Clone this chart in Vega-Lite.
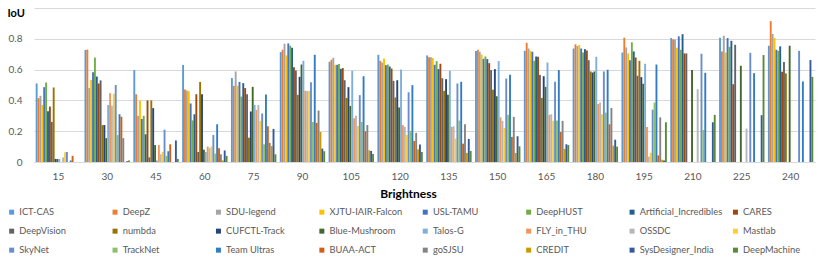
{
  "$schema": "https://vega.github.io/schema/vega-lite/v6.json",
  "width": 781,
  "height": 154,
  "autosize": {"type": "none"},
  "padding": {"left": 34, "top": 8, "right": 15, "bottom": 96},
  "background": "#ffffff",
  "config": {
    "view": {"stroke": null},
    "font": "Lato",
    "axis": {"labelFont": "Lato", "titleFont": "Lato"},
    "legend": {"labelFont": "Lato"}
  },
  "data": {"values": [
    {"brightness":15,"team":"ICT-CAS","iou":0.51},{"brightness":15,"team":"DeepZ","iou":0.415},{"brightness":15,"team":"SDU-legend","iou":0.43},{"brightness":15,"team":"XJTU-IAIR-Falcon","iou":0.37},{"brightness":15,"team":"USL-TAMU","iou":0.486},{"brightness":15,"team":"DeepHUST","iou":0.516},{"brightness":15,"team":"Artificial_Incredibles","iou":0.33},{"brightness":15,"team":"CARES","iou":0.36},{"brightness":15,"team":"DeepVision","iou":0.26},{"brightness":15,"team":"numbda","iou":0.484},{"brightness":15,"team":"CUFCTL-Track","iou":0.02},{"brightness":15,"team":"Blue-Mushroom","iou":0.02},{"brightness":15,"team":"Talos-G","iou":0.02},{"brightness":15,"team":"FLY_in_THU","iou":0},{"brightness":15,"team":"OSSDC","iou":0.03},{"brightness":15,"team":"Mastlab","iou":0.063},{"brightness":15,"team":"SkyNet","iou":0.065},{"brightness":15,"team":"TrackNet","iou":0},{"brightness":15,"team":"Team Ultras","iou":0.01},{"brightness":15,"team":"BUAA-ACT","iou":0.04},{"brightness":15,"team":"goSJSU","iou":0},{"brightness":15,"team":"CREDIT","iou":0},{"brightness":15,"team":"SysDesigner_India","iou":0},{"brightness":15,"team":"DeepMachine","iou":0},
    {"brightness":30,"team":"ICT-CAS","iou":0.728},{"brightness":30,"team":"DeepZ","iou":0.73},{"brightness":30,"team":"SDU-legend","iou":0.48},{"brightness":30,"team":"XJTU-IAIR-Falcon","iou":0.533},{"brightness":30,"team":"USL-TAMU","iou":0.583},{"brightness":30,"team":"DeepHUST","iou":0.678},{"brightness":30,"team":"Artificial_Incredibles","iou":0.555},{"brightness":30,"team":"CARES","iou":0.51},{"brightness":30,"team":"DeepVision","iou":0.53},{"brightness":30,"team":"numbda","iou":0.24},{"brightness":30,"team":"CUFCTL-Track","iou":0.24},{"brightness":30,"team":"Blue-Mushroom","iou":0.155},{"brightness":30,"team":"Talos-G","iou":0.37},{"brightness":30,"team":"FLY_in_THU","iou":0.447},{"brightness":30,"team":"OSSDC","iou":0.365},{"brightness":30,"team":"Mastlab","iou":0.443},{"brightness":30,"team":"SkyNet","iou":0.5},{"brightness":30,"team":"TrackNet","iou":0.175},{"brightness":30,"team":"Team Ultras","iou":0.31},{"brightness":30,"team":"BUAA-ACT","iou":0.294},{"brightness":30,"team":"goSJSU","iou":0.155},{"brightness":30,"team":"CREDIT","iou":0},{"brightness":30,"team":"SysDesigner_India","iou":0.005},{"brightness":30,"team":"DeepMachine","iou":0.01},
    {"brightness":45,"team":"ICT-CAS","iou":0.597},{"brightness":45,"team":"DeepZ","iou":0.44},{"brightness":45,"team":"SDU-legend","iou":0.3},{"brightness":45,"team":"XJTU-IAIR-Falcon","iou":0.4},{"brightness":45,"team":"USL-TAMU","iou":0.28},{"brightness":45,"team":"DeepHUST","iou":0.3},{"brightness":45,"team":"Artificial_Incredibles","iou":0.18},{"brightness":45,"team":"CARES","iou":0.4},{"brightness":45,"team":"DeepVision","iou":0.03},{"brightness":45,"team":"numbda","iou":0.4},{"brightness":45,"team":"CUFCTL-Track","iou":0.35},{"brightness":45,"team":"Blue-Mushroom","iou":0.11},{"brightness":45,"team":"Talos-G","iou":0.01},{"brightness":45,"team":"FLY_in_THU","iou":0.11},{"brightness":45,"team":"OSSDC","iou":0.05},{"brightness":45,"team":"Mastlab","iou":0.065},{"brightness":45,"team":"SkyNet","iou":0.21},{"brightness":45,"team":"TrackNet","iou":0.04},{"brightness":45,"team":"Team Ultras","iou":0.07},{"brightness":45,"team":"BUAA-ACT","iou":0.115},{"brightness":45,"team":"goSJSU","iou":0},{"brightness":45,"team":"CREDIT","iou":0},{"brightness":45,"team":"SysDesigner_India","iou":0.14},{"brightness":45,"team":"DeepMachine","iou":0.02},
    {"brightness":60,"team":"ICT-CAS","iou":0.63},{"brightness":60,"team":"DeepZ","iou":0.47},{"brightness":60,"team":"SDU-legend","iou":0.464},{"brightness":60,"team":"XJTU-IAIR-Falcon","iou":0.46},{"brightness":60,"team":"USL-TAMU","iou":0.38},{"brightness":60,"team":"DeepHUST","iou":0.27},{"brightness":60,"team":"Artificial_Incredibles","iou":0.31},{"brightness":60,"team":"CARES","iou":0.44},{"brightness":60,"team":"DeepVision","iou":0.065},{"brightness":60,"team":"numbda","iou":0.52},{"brightness":60,"team":"CUFCTL-Track","iou":0.44},{"brightness":60,"team":"Blue-Mushroom","iou":0.08},{"brightness":60,"team":"Talos-G","iou":0.065},{"brightness":60,"team":"FLY_in_THU","iou":0.1},{"brightness":60,"team":"OSSDC","iou":0.09},{"brightness":60,"team":"Mastlab","iou":0.1},{"brightness":60,"team":"SkyNet","iou":0.175},{"brightness":60,"team":"TrackNet","iou":0.055},{"brightness":60,"team":"Team Ultras","iou":0.245},{"brightness":60,"team":"BUAA-ACT","iou":0.09},{"brightness":60,"team":"goSJSU","iou":0.05},{"brightness":60,"team":"CREDIT","iou":0.01},{"brightness":60,"team":"SysDesigner_India","iou":0.075},{"brightness":60,"team":"DeepMachine","iou":0.04},
    {"brightness":75,"team":"ICT-CAS","iou":0.545},{"brightness":75,"team":"DeepZ","iou":0.495},{"brightness":75,"team":"SDU-legend","iou":0.588},{"brightness":75,"team":"XJTU-IAIR-Falcon","iou":0.495},{"brightness":75,"team":"USL-TAMU","iou":0.52},{"brightness":75,"team":"DeepHUST","iou":0.425},{"brightness":75,"team":"Artificial_Incredibles","iou":0.512},{"brightness":75,"team":"CARES","iou":0.48},{"brightness":75,"team":"DeepVision","iou":0.44},{"brightness":75,"team":"numbda","iou":0.158},{"brightness":75,"team":"CUFCTL-Track","iou":0.328},{"brightness":75,"team":"Blue-Mushroom","iou":0.488},{"brightness":75,"team":"Talos-G","iou":0.37},{"brightness":75,"team":"FLY_in_THU","iou":0.338},{"brightness":75,"team":"OSSDC","iou":0.37},{"brightness":75,"team":"Mastlab","iou":0.267},{"brightness":75,"team":"SkyNet","iou":0.315},{"brightness":75,"team":"TrackNet","iou":0.115},{"brightness":75,"team":"Team Ultras","iou":0.438},{"brightness":75,"team":"BUAA-ACT","iou":0.232},{"brightness":75,"team":"goSJSU","iou":0.124},{"brightness":75,"team":"CREDIT","iou":0.104},{"brightness":75,"team":"SysDesigner_India","iou":0.215},{"brightness":75,"team":"DeepMachine","iou":0.05},
    {"brightness":90,"team":"ICT-CAS","iou":0.714},{"brightness":90,"team":"DeepZ","iou":0.729},{"brightness":90,"team":"SDU-legend","iou":0.768},{"brightness":90,"team":"XJTU-IAIR-Falcon","iou":0.692},{"brightness":90,"team":"USL-TAMU","iou":0.77},{"brightness":90,"team":"DeepHUST","iou":0.755},{"brightness":90,"team":"Artificial_Incredibles","iou":0.742},{"brightness":90,"team":"CARES","iou":0.616},{"brightness":90,"team":"DeepVision","iou":0.594},{"brightness":90,"team":"numbda","iou":0.436},{"brightness":90,"team":"CUFCTL-Track","iou":0.553},{"brightness":90,"team":"Blue-Mushroom","iou":0.633},{"brightness":90,"team":"Talos-G","iou":0.657},{"brightness":90,"team":"FLY_in_THU","iou":0.462},{"brightness":90,"team":"OSSDC","iou":0.462},{"brightness":90,"team":"Mastlab","iou":0.462},{"brightness":90,"team":"SkyNet","iou":0.518},{"brightness":90,"team":"TrackNet","iou":0.26},{"brightness":90,"team":"Team Ultras","iou":0.696},{"brightness":90,"team":"BUAA-ACT","iou":0.254},{"brightness":90,"team":"goSJSU","iou":0.334},{"brightness":90,"team":"CREDIT","iou":0.195},{"brightness":90,"team":"SysDesigner_India","iou":0.087},{"brightness":90,"team":"DeepMachine","iou":0.07},
    {"brightness":105,"team":"ICT-CAS","iou":0.651},{"brightness":105,"team":"DeepZ","iou":0.664},{"brightness":105,"team":"SDU-legend","iou":0.677},{"brightness":105,"team":"XJTU-IAIR-Falcon","iou":0.631},{"brightness":105,"team":"USL-TAMU","iou":0.631},{"brightness":105,"team":"DeepHUST","iou":0.636},{"brightness":105,"team":"Artificial_Incredibles","iou":0.605},{"brightness":105,"team":"CARES","iou":0.61},{"brightness":105,"team":"DeepVision","iou":0.531},{"brightness":105,"team":"numbda","iou":0.416},{"brightness":105,"team":"CUFCTL-Track","iou":0.486},{"brightness":105,"team":"Blue-Mushroom","iou":0.364},{"brightness":105,"team":"Talos-G","iou":0.592},{"brightness":105,"team":"FLY_in_THU","iou":0.284},{"brightness":105,"team":"OSSDC","iou":0.3},{"brightness":105,"team":"Mastlab","iou":0.234},{"brightness":105,"team":"SkyNet","iou":0.434},{"brightness":105,"team":"TrackNet","iou":0.26},{"brightness":105,"team":"Team Ultras","iou":0.557},{"brightness":105,"team":"BUAA-ACT","iou":0.2},{"brightness":105,"team":"goSJSU","iou":0.24},{"brightness":105,"team":"CREDIT","iou":0.076},{"brightness":105,"team":"SysDesigner_India","iou":0.072},{"brightness":105,"team":"DeepMachine","iou":0.052},
    {"brightness":120,"team":"ICT-CAS","iou":0.696},{"brightness":120,"team":"DeepZ","iou":0.657},{"brightness":120,"team":"SDU-legend","iou":0.646},{"brightness":120,"team":"XJTU-IAIR-Falcon","iou":0.672},{"brightness":120,"team":"USL-TAMU","iou":0.629},{"brightness":120,"team":"DeepHUST","iou":0.633},{"brightness":120,"team":"Artificial_Incredibles","iou":0.62},{"brightness":120,"team":"CARES","iou":0.607},{"brightness":120,"team":"DeepVision","iou":0.527},{"brightness":120,"team":"numbda","iou":0.419},{"brightness":120,"team":"CUFCTL-Track","iou":0.531},{"brightness":120,"team":"Blue-Mushroom","iou":0.354},{"brightness":120,"team":"Talos-G","iou":0.6},{"brightness":120,"team":"FLY_in_THU","iou":0.239},{"brightness":120,"team":"OSSDC","iou":0.228},{"brightness":120,"team":"Mastlab","iou":0.176},{"brightness":120,"team":"SkyNet","iou":0.453},{"brightness":120,"team":"TrackNet","iou":0.202},{"brightness":120,"team":"Team Ultras","iou":0.499},{"brightness":120,"team":"BUAA-ACT","iou":0.137},{"brightness":120,"team":"goSJSU","iou":0.189},{"brightness":120,"team":"CREDIT","iou":0.082},{"brightness":120,"team":"SysDesigner_India","iou":0.113},{"brightness":120,"team":"DeepMachine","iou":0.065},
    {"brightness":135,"team":"ICT-CAS","iou":0.692},{"brightness":135,"team":"DeepZ","iou":0.68},{"brightness":135,"team":"SDU-legend","iou":0.68},{"brightness":135,"team":"XJTU-IAIR-Falcon","iou":0.675},{"brightness":135,"team":"USL-TAMU","iou":0.631},{"brightness":135,"team":"DeepHUST","iou":0.655},{"brightness":135,"team":"Artificial_Incredibles","iou":0.603},{"brightness":135,"team":"CARES","iou":0.638},{"brightness":135,"team":"DeepVision","iou":0.544},{"brightness":135,"team":"numbda","iou":0.462},{"brightness":135,"team":"CUFCTL-Track","iou":0.538},{"brightness":135,"team":"Blue-Mushroom","iou":0.436},{"brightness":135,"team":"Talos-G","iou":0.592},{"brightness":135,"team":"FLY_in_THU","iou":0.228},{"brightness":135,"team":"OSSDC","iou":0.232},{"brightness":135,"team":"Mastlab","iou":0.152},{"brightness":135,"team":"SkyNet","iou":0.51},{"brightness":135,"team":"TrackNet","iou":0.269},{"brightness":135,"team":"Team Ultras","iou":0.521},{"brightness":135,"team":"BUAA-ACT","iou":0.119},{"brightness":135,"team":"goSJSU","iou":0.245},{"brightness":135,"team":"CREDIT","iou":0.059},{"brightness":135,"team":"SysDesigner_India","iou":0.15},{"brightness":135,"team":"DeepMachine","iou":0.072},
    {"brightness":150,"team":"ICT-CAS","iou":0.72},{"brightness":150,"team":"DeepZ","iou":0.729},{"brightness":150,"team":"SDU-legend","iou":0.716},{"brightness":150,"team":"XJTU-IAIR-Falcon","iou":0.698},{"brightness":150,"team":"USL-TAMU","iou":0.67},{"brightness":150,"team":"DeepHUST","iou":0.685},{"brightness":150,"team":"Artificial_Incredibles","iou":0.668},{"brightness":150,"team":"CARES","iou":0.642},{"brightness":150,"team":"DeepVision","iou":0.597},{"brightness":150,"team":"numbda","iou":0.469},{"brightness":150,"team":"CUFCTL-Track","iou":0.603},{"brightness":150,"team":"Blue-Mushroom","iou":0.427},{"brightness":150,"team":"Talos-G","iou":0.655},{"brightness":150,"team":"FLY_in_THU","iou":0.29},{"brightness":150,"team":"OSSDC","iou":0.267},{"brightness":150,"team":"Mastlab","iou":0.221},{"brightness":150,"team":"SkyNet","iou":0.542},{"brightness":150,"team":"TrackNet","iou":0.306},{"brightness":150,"team":"Team Ultras","iou":0.566},{"brightness":150,"team":"BUAA-ACT","iou":0.163},{"brightness":150,"team":"goSJSU","iou":0.293},{"brightness":150,"team":"CREDIT","iou":0.059},{"brightness":150,"team":"SysDesigner_India","iou":0.167},{"brightness":150,"team":"DeepMachine","iou":0.102},
    {"brightness":165,"team":"ICT-CAS","iou":0.722},{"brightness":165,"team":"DeepZ","iou":0.774},{"brightness":165,"team":"SDU-legend","iou":0.737},{"brightness":165,"team":"XJTU-IAIR-Falcon","iou":0.722},{"brightness":165,"team":"USL-TAMU","iou":0.716},{"brightness":165,"team":"DeepHUST","iou":0.657},{"brightness":165,"team":"Artificial_Incredibles","iou":0.685},{"brightness":165,"team":"CARES","iou":0.683},{"brightness":165,"team":"DeepVision","iou":0.566},{"brightness":165,"team":"numbda","iou":0.416},{"brightness":165,"team":"CUFCTL-Track","iou":0.557},{"brightness":165,"team":"Blue-Mushroom","iou":0.488},{"brightness":165,"team":"Talos-G","iou":0.646},{"brightness":165,"team":"FLY_in_THU","iou":0.306},{"brightness":165,"team":"OSSDC","iou":0.31},{"brightness":165,"team":"Mastlab","iou":0.267},{"brightness":165,"team":"SkyNet","iou":0.521},{"brightness":165,"team":"TrackNet","iou":0.269},{"brightness":165,"team":"Team Ultras","iou":0.597},{"brightness":165,"team":"BUAA-ACT","iou":0.195},{"brightness":165,"team":"goSJSU","iou":0.267},{"brightness":165,"team":"CREDIT","iou":0.085},{"brightness":165,"team":"SysDesigner_India","iou":0.115},{"brightness":165,"team":"DeepMachine","iou":0.11},
    {"brightness":180,"team":"ICT-CAS","iou":0.737},{"brightness":180,"team":"DeepZ","iou":0.764},{"brightness":180,"team":"SDU-legend","iou":0.753},{"brightness":180,"team":"XJTU-IAIR-Falcon","iou":0.759},{"brightness":180,"team":"USL-TAMU","iou":0.737},{"brightness":180,"team":"DeepHUST","iou":0.711},{"brightness":180,"team":"Artificial_Incredibles","iou":0.733},{"brightness":180,"team":"CARES","iou":0.724},{"brightness":180,"team":"DeepVision","iou":0.661},{"brightness":180,"team":"numbda","iou":0.588},{"brightness":180,"team":"CUFCTL-Track","iou":0.581},{"brightness":180,"team":"Blue-Mushroom","iou":0.588},{"brightness":180,"team":"Talos-G","iou":0.683},{"brightness":180,"team":"FLY_in_THU","iou":0.377},{"brightness":180,"team":"OSSDC","iou":0.386},{"brightness":180,"team":"Mastlab","iou":0.31},{"brightness":180,"team":"SkyNet","iou":0.588},{"brightness":180,"team":"TrackNet","iou":0.321},{"brightness":180,"team":"Team Ultras","iou":0.599},{"brightness":180,"team":"BUAA-ACT","iou":0.245},{"brightness":180,"team":"goSJSU","iou":0.351},{"brightness":180,"team":"CREDIT","iou":0.106},{"brightness":180,"team":"SysDesigner_India","iou":0.145},{"brightness":180,"team":"DeepMachine","iou":0.1},
    {"brightness":195,"team":"ICT-CAS","iou":0.711},{"brightness":195,"team":"DeepZ","iou":0.807},{"brightness":195,"team":"SDU-legend","iou":0.744},{"brightness":195,"team":"XJTU-IAIR-Falcon","iou":0.705},{"brightness":195,"team":"USL-TAMU","iou":0.661},{"brightness":195,"team":"DeepHUST","iou":0.777},{"brightness":195,"team":"Artificial_Incredibles","iou":0.718},{"brightness":195,"team":"CARES","iou":0.679},{"brightness":195,"team":"DeepVision","iou":0.56},{"brightness":195,"team":"numbda","iou":0.657},{"brightness":195,"team":"CUFCTL-Track","iou":0.551},{"brightness":195,"team":"Blue-Mushroom","iou":0.508},{"brightness":195,"team":"Talos-G","iou":0.638},{"brightness":195,"team":"FLY_in_THU","iou":0.228},{"brightness":195,"team":"OSSDC","iou":0.035},{"brightness":195,"team":"Mastlab","iou":0.06},{"brightness":195,"team":"SkyNet","iou":0.34},{"brightness":195,"team":"TrackNet","iou":0.386},{"brightness":195,"team":"Team Ultras","iou":0.633},{"brightness":195,"team":"BUAA-ACT","iou":0.043},{"brightness":195,"team":"goSJSU","iou":0.29},{"brightness":195,"team":"CREDIT","iou":0.015},{"brightness":195,"team":"SysDesigner_India","iou":0.009},{"brightness":195,"team":"DeepMachine","iou":0.258},
    {"brightness":210,"team":"ICT-CAS","iou":0.805},{"brightness":210,"team":"DeepZ","iou":0.796},{"brightness":210,"team":"SDU-legend","iou":0.796},{"brightness":210,"team":"XJTU-IAIR-Falcon","iou":0.742},{"brightness":210,"team":"USL-TAMU","iou":0.816},{"brightness":210,"team":"DeepHUST","iou":0.729},{"brightness":210,"team":"Artificial_Incredibles","iou":0.83},{"brightness":210,"team":"CARES","iou":0.705},{"brightness":210,"team":"DeepVision","iou":0.705},{"brightness":210,"team":"numbda","iou":0},{"brightness":210,"team":"CUFCTL-Track","iou":0},{"brightness":210,"team":"Blue-Mushroom","iou":0.597},{"brightness":210,"team":"Talos-G","iou":0},{"brightness":210,"team":"FLY_in_THU","iou":0},{"brightness":210,"team":"OSSDC","iou":0.473},{"brightness":210,"team":"Mastlab","iou":0},{"brightness":210,"team":"SkyNet","iou":0.703},{"brightness":210,"team":"TrackNet","iou":0.208},{"brightness":210,"team":"Team Ultras","iou":0.579},{"brightness":210,"team":"BUAA-ACT","iou":0},{"brightness":210,"team":"goSJSU","iou":0},{"brightness":210,"team":"CREDIT","iou":0},{"brightness":210,"team":"SysDesigner_India","iou":0.258},{"brightness":210,"team":"DeepMachine","iou":0.306},
    {"brightness":225,"team":"ICT-CAS","iou":0.807},{"brightness":225,"team":"DeepZ","iou":0.718},{"brightness":225,"team":"SDU-legend","iou":0.82},{"brightness":225,"team":"XJTU-IAIR-Falcon","iou":0.711},{"brightness":225,"team":"USL-TAMU","iou":0.805},{"brightness":225,"team":"DeepHUST","iou":0.748},{"brightness":225,"team":"Artificial_Incredibles","iou":0.787},{"brightness":225,"team":"CARES","iou":0.505},{"brightness":225,"team":"DeepVision","iou":0.761},{"brightness":225,"team":"numbda","iou":0},{"brightness":225,"team":"CUFCTL-Track","iou":0},{"brightness":225,"team":"Blue-Mushroom","iou":0.625},{"brightness":225,"team":"Talos-G","iou":0},{"brightness":225,"team":"FLY_in_THU","iou":0},{"brightness":225,"team":"OSSDC","iou":0.217},{"brightness":225,"team":"Mastlab","iou":0},{"brightness":225,"team":"SkyNet","iou":0.709},{"brightness":225,"team":"TrackNet","iou":0},{"brightness":225,"team":"Team Ultras","iou":0.577},{"brightness":225,"team":"BUAA-ACT","iou":0},{"brightness":225,"team":"goSJSU","iou":0},{"brightness":225,"team":"CREDIT","iou":0},{"brightness":225,"team":"SysDesigner_India","iou":0.304},{"brightness":225,"team":"DeepMachine","iou":0.694},
    {"brightness":240,"team":"ICT-CAS","iou":0.755},{"brightness":240,"team":"DeepZ","iou":0.915},{"brightness":240,"team":"SDU-legend","iou":0.831},{"brightness":240,"team":"XJTU-IAIR-Falcon","iou":0.805},{"brightness":240,"team":"USL-TAMU","iou":0.729},{"brightness":240,"team":"DeepHUST","iou":0.722},{"brightness":240,"team":"Artificial_Incredibles","iou":0.751},{"brightness":240,"team":"CARES","iou":0.586},{"brightness":240,"team":"DeepVision","iou":0.649},{"brightness":240,"team":"numbda","iou":0.575},{"brightness":240,"team":"CUFCTL-Track","iou":0},{"brightness":240,"team":"Blue-Mushroom","iou":0.755},{"brightness":240,"team":"Talos-G","iou":0},{"brightness":240,"team":"FLY_in_THU","iou":0},{"brightness":240,"team":"OSSDC","iou":0},{"brightness":240,"team":"Mastlab","iou":0},{"brightness":240,"team":"SkyNet","iou":0.722},{"brightness":240,"team":"TrackNet","iou":0},{"brightness":240,"team":"Team Ultras","iou":0.523},{"brightness":240,"team":"BUAA-ACT","iou":0},{"brightness":240,"team":"goSJSU","iou":0},{"brightness":240,"team":"CREDIT","iou":0},{"brightness":240,"team":"SysDesigner_India","iou":0.662},{"brightness":240,"team":"DeepMachine","iou":0.553}
  ]},
  "mark": {"type": "bar"},
  "encoding": {
    "x": {
      "field": "brightness", "type": "ordinal",
      "scale": {"paddingInner": 0.07, "paddingOuter": 0.035},
      "axis": {
        "title": "Brightness", "labelAngle": 0, "ticks": false, "tickSize": 0,
        "domain": true, "domainColor": "#D9D9D9", "domainWidth": 1,
        "labelColor": "#595959", "labelFontSize": 10, "labelPadding": 9,
        "titleFontSize": 12, "titleFontWeight": "bold", "titleColor": "#000000",
        "titleX": 374, "titleY": 31, "titleAlign": "center", "titleBaseline": "middle"
      }
    },
    "xOffset": {
      "field": "team", "type": "nominal",
      "scale": {"paddingInner": 0, "paddingOuter": 0, "domain": ["ICT-CAS","DeepZ","SDU-legend","XJTU-IAIR-Falcon","USL-TAMU","DeepHUST","Artificial_Incredibles","CARES","DeepVision","numbda","CUFCTL-Track","Blue-Mushroom","Talos-G","FLY_in_THU","OSSDC","Mastlab","SkyNet","TrackNet","Team Ultras","BUAA-ACT","goSJSU","CREDIT","SysDesigner_India","DeepMachine"]}
    },
    "y": {
      "field": "iou", "type": "quantitative",
      "scale": {"domain": [0, 1], "nice": false},
      "axis": {
        "title": "IoU", "values": [0, 0.2, 0.4, 0.6, 0.8, 1],
        "labelExpr": "datum.value == 1 ? '' : (datum.value == 0 ? '0' : format(datum.value, '.1f'))",
        "grid": true, "gridColor": "#D9D9D9", "gridWidth": 1,
        "domain": false, "ticks": false, "tickSize": 0,
        "labelColor": "#595959", "labelFontSize": 10, "labelPadding": 12,
        "titleAngle": 0, "titleX": -27, "titleY": 5, "titleAlign": "left", "titleBaseline": "middle",
        "titleFontSize": 11, "titleFontWeight": "bold", "titleColor": "#000000"
      }
    },
    "color": {
      "field": "team", "type": "nominal",
      "scale": {
        "domain": ["ICT-CAS","DeepZ","SDU-legend","XJTU-IAIR-Falcon","USL-TAMU","DeepHUST","Artificial_Incredibles","CARES","DeepVision","numbda","CUFCTL-Track","Blue-Mushroom","Talos-G","FLY_in_THU","OSSDC","Mastlab","SkyNet","TrackNet","Team Ultras","BUAA-ACT","goSJSU","CREDIT","SysDesigner_India","DeepMachine"],
        "range": ["#5B9BD5","#ED7D31","#A5A5A5","#FFC000","#4472C4","#70AD47","#255E91","#9E480E","#636363","#997300","#264478","#43682B","#7CAFDD","#F1975A","#B7B7B7","#FFCD33","#698ED0","#8CC168","#327DC2","#D26012","#848484","#CC9A00","#335AA1","#5A8A39"]
      },
      "legend": {
        "title": null, "orient": "none", "legendX": -27, "legendY": 199.5, "direction": "horizontal",
        "columns": 8, "gridAlign": "all", "columnPadding": 8.4, "rowPadding": 9,
        "symbolType": "square", "symbolSize": 25, "symbolStrokeWidth": 0, "labelOffset": 3,
        "labelFontSize": 9.3, "labelColor": "#595959"
      }
    }
  }
}
